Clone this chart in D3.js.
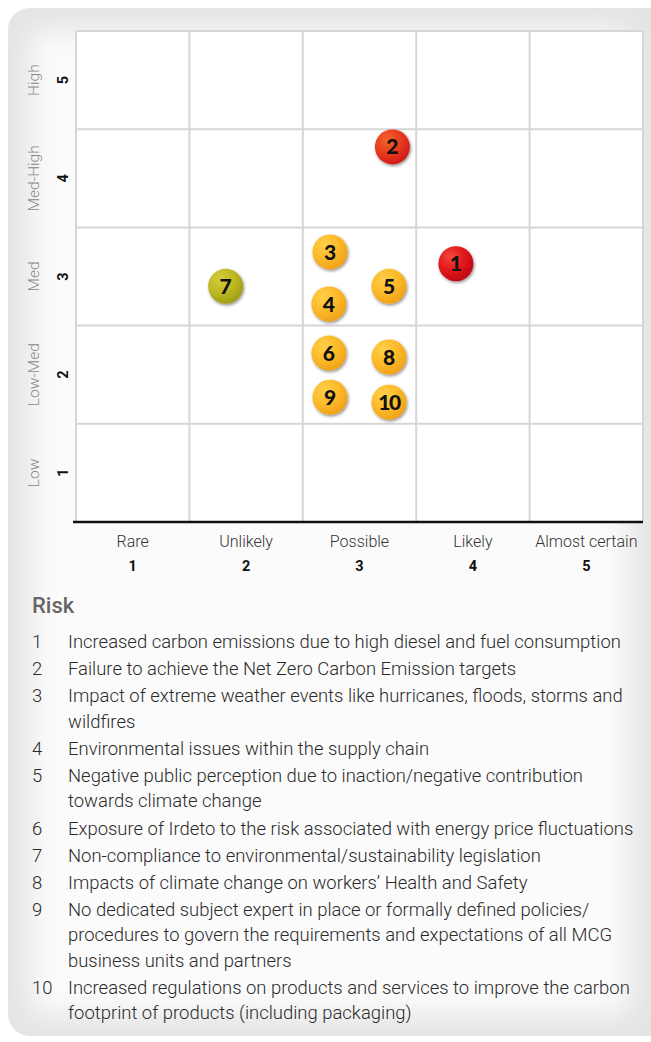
<!DOCTYPE html>
<html><head><meta charset="utf-8">
<script src="https://cdn.jsdelivr.net/npm/d3@7"></script>
<style>html,body{margin:0;padding:0;background:#fff;}svg{display:block;}</style>
</head><body>
<script>
const ticks = [1, 2, 3, 4, 5];
const xCategories = ["Rare", "Unlikely", "Possible", "Likely", "Almost certain"];
const yCategories = ["Low", "Low-Med", "Med", "Med-High", "High"];
const riskIds = [1, 2, 3, 4, 5, 6, 7, 8, 9, 10];
const likelihood = [3.85, 3.29, 2.74, 2.73, 3.26, 2.73, 1.82, 3.26, 2.74, 3.26];
const impact = [3.13, 4.32, 3.25, 2.72, 2.90, 2.22, 2.90, 2.18, 1.77, 1.72];
const riskLevel = ["Critical", "Severe", "Moderate", "Moderate", "Moderate", "Moderate", "Minor", "Moderate", "Moderate", "Moderate"];
const legendTitle = "Risk";
const riskTexts = [
  ["Increased carbon emissions due to high diesel and fuel consumption"],
  ["Failure to achieve the Net Zero Carbon Emission targets"],
  ["Impact of extreme weather events like hurricanes, floods, storms and", "wildfires"],
  ["Environmental issues within the supply chain"],
  ["Negative public perception due to inaction/negative contribution", "towards climate change"],
  ["Exposure of Irdeto to the risk associated with energy price fluctuations"],
  ["Non-compliance to environmental/sustainability legislation"],
  ["Impacts of climate change on workers\u2019 Health and Safety"],
  ["No dedicated subject expert in place or formally defined policies/", "procedures to govern the requirements and expectations of all MCG", "business units and partners"],
  ["Increased regulations on products and services to improve the carbon", "footprint of products (including packaging)"]
];

const W = 651, H = 1042;
const svg = d3.select("body").append("svg").attr("width", W).attr("height", H);
const defs = svg.append("defs");

// panel background
defs.append("clipPath").attr("id", "panelClip")
  .append("rect").attr("x", 8).attr("y", 8).attr("width", 680).attr("height", 1028).attr("rx", 22);
const blur = defs.append("filter").attr("id", "blur").attr("x", "-10%").attr("y", "-10%").attr("width", "120%").attr("height", "120%");
blur.append("feGaussianBlur").attr("stdDeviation", 14);
const panel = svg.append("g").attr("clip-path", "url(#panelClip)");
panel.append("rect").attr("x", 8).attr("y", 8).attr("width", 680).attr("height", 1028).attr("fill", "#e4e4e4");
panel.append("rect").attr("x", 30).attr("y", 30).attr("width", 600).attr("height", 985).attr("rx", 10)
  .attr("fill", "#fbfbfb").attr("filter", "url(#blur)");

// scales
const x = d3.scaleLinear().domain([0.5, 5.5]).range([76, 643]);
const y = d3.scaleLinear().domain([0.5, 5.5]).range([522, 31]);
const color = d3.scaleOrdinal()
  .domain(["Critical", "Severe", "Moderate", "Minor"])
  .range([["#f44a3c", "#e2141b", "#b80d14"], ["#f2642a", "#e83a1e", "#d01818"], ["#ffd04a", "#fbb928", "#f0a11a"], ["#d4cc3a", "#bcb822", "#a09c14"]]);

// plot area
svg.append("rect").attr("x", x(0.5)).attr("y", y(5.5)).attr("width", x(5.5) - x(0.5)).attr("height", y(0.5) - y(5.5)).attr("fill", "#fff");
const gridVals = d3.range(0.5, 5.6, 1);
svg.append("g").selectAll("line.v").data(gridVals).join("line")
  .attr("x1", d => x(d)).attr("x2", d => x(d)).attr("y1", y(5.5)).attr("y2", y(0.5))
  .attr("stroke", "#d6d6d6").attr("stroke-width", 2);
svg.append("g").selectAll("line.h").data(gridVals).join("line")
  .attr("x1", x(0.5)).attr("x2", x(5.5)).attr("y1", d => y(d)).attr("y2", d => y(d))
  .attr("stroke", "#d6d6d6").attr("stroke-width", 2);
svg.append("line").attr("x1", x(0.5) - 3).attr("x2", x(5.5)).attr("y1", y(0.5)).attr("y2", y(0.5))
  .attr("stroke", "#111").attr("stroke-width", 2.5);

// x axis labels
const xl = svg.append("g");
xl.selectAll("text.cat").data(ticks).join("text")
  .attr("x", d => x(d)).attr("y", 547).attr("text-anchor", "middle")
  .style("font-family", "Roboto").style("font-weight", 300).style("font-size", "16px").attr("fill", "#333")
  .text((d, i) => xCategories[i]);
xl.selectAll("text.num").data(ticks).join("text")
  .attr("x", d => x(d)).attr("y", 571).attr("text-anchor", "middle")
  .style("font-family", "Roboto").style("font-weight", 700).style("font-size", "14.5px").attr("fill", "#111")
  .text(d => d);

// y axis labels
const yl = svg.append("g");
yl.selectAll("text.cat").data(ticks).join("text")
  .attr("transform", d => `translate(39,${y(d)}) rotate(-90)`).attr("text-anchor", "middle")
  .style("font-family", "Roboto").style("font-weight", 300).style("font-size", "15.5px").attr("fill", "#888")
  .text((d, i) => yCategories[i]);
yl.selectAll("text.num").data(ticks).join("text")
  .attr("transform", d => `translate(68,${y(d)}) rotate(-90)`).attr("text-anchor", "middle")
  .style("font-family", "Roboto").style("font-weight", 700).style("font-size", "14.5px").attr("fill", "#111")
  .text(d => d);

// bubbles
const shadow = defs.append("filter").attr("id", "shadow").attr("x", "-50%").attr("y", "-50%").attr("width", "200%").attr("height", "200%");
shadow.append("feDropShadow").attr("dx", 1).attr("dy", 1.5).attr("stdDeviation", 1.8).attr("flood-color", "#000").attr("flood-opacity", 0.45);
color.domain().forEach((lvl, i) => {
  const c = color(lvl);
  const g = defs.append("radialGradient").attr("id", "grad" + i).attr("cx", "35%").attr("cy", "30%").attr("r", "75%");
  g.append("stop").attr("offset", "0%").attr("stop-color", c[0]);
  g.append("stop").attr("offset", "55%").attr("stop-color", c[1]);
  g.append("stop").attr("offset", "100%").attr("stop-color", c[2]);
});
const data = riskIds.map((id, i) => ({ id, lx: likelihood[i], iy: impact[i], lvl: riskLevel[i] }));
const bub = svg.append("g").selectAll("g").data(data).join("g")
  .attr("transform", d => `translate(${x(d.lx)},${y(d.iy)})`);
bub.append("circle").attr("r", 17.5)
  .attr("fill", d => `url(#grad${color.domain().indexOf(d.lvl)})`).attr("filter", "url(#shadow)");
bub.append("text").attr("text-anchor", "middle").attr("dy", "0.36em")
  .style("font-family", "Lato").style("font-weight", 900).style("font-size", "21px")
  .style("letter-spacing", d => d.id > 9 ? "-1.5px" : "0px")
  .attr("fill", "#111").text(d => d.id);

// legend
svg.append("text").attr("x", 32).attr("y", 613)
  .style("font-family", "Roboto").style("font-weight", 500).style("font-size", "22px").attr("fill", "#666")
  .text(legendTitle);
const lineH = 25.5, itemGap = 1.6;
let cy = 648;
const leg = svg.append("g").style("font-family", "Roboto").style("font-weight", 300).style("font-size", "18.45px").attr("fill", "#2a2a2a");
riskIds.forEach((id, i) => {
  leg.append("text").attr("x", 32).attr("y", cy).text(id);
  riskTexts[i].forEach((ln, j) => {
    leg.append("text").attr("x", 68).attr("y", cy + j * lineH).text(ln);
  });
  cy += riskTexts[i].length * lineH + itemGap;
});
</script>
</body></html>
